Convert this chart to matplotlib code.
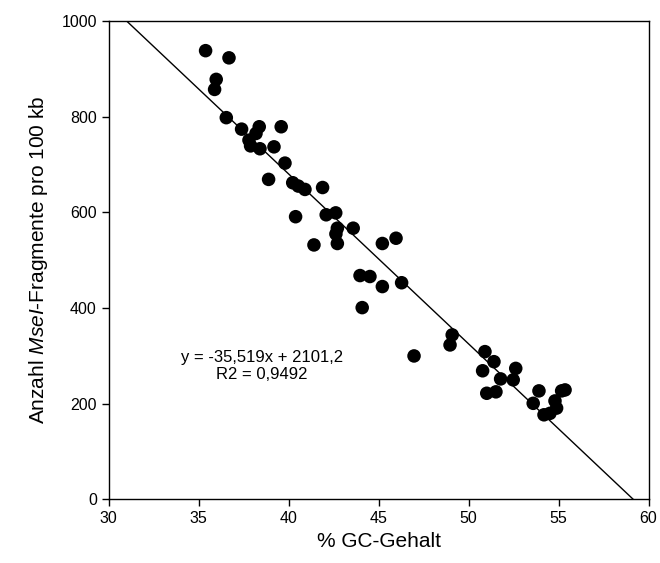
import matplotlib
matplotlib.use("Agg")
import matplotlib.pyplot as plt
import numpy as np

plt.rcParams["font.family"] = ["Liberation Sans", "DejaVu Sans"]
plt.rcParams["mathtext.fontset"] = "custom"
plt.rcParams["mathtext.rm"] = "Liberation Sans"
plt.rcParams["mathtext.it"] = "Liberation Sans:italic"

# GC-Gehalt (%) und MseI-Fragmente pro 100 kb
gc_gehalt = [35.39, 36.69, 35.98, 35.89, 36.54, 37.39, 38.37, 38.19, 37.80, 37.89,
             38.41, 39.59, 39.19, 39.80, 38.89, 40.23, 40.54, 40.91, 41.89, 40.39,
             42.09, 42.62, 42.71, 42.63, 42.71, 43.59, 41.41, 45.21, 45.97, 43.97,
             44.52, 45.21, 46.28, 44.09, 49.09, 48.97, 46.97, 50.91, 51.41, 50.78,
             51.78, 52.62, 52.48, 51.01, 51.52, 53.91, 53.59, 54.19, 54.52, 54.89,
             54.80, 55.17, 55.36]
fragmente = [938, 923, 878, 857, 798, 774, 779, 765, 751, 739,
             733, 779, 737, 703, 669, 662, 655, 648, 652, 591,
             595, 599, 567, 555, 535, 567, 532, 535, 546, 468,
             466, 445, 453, 401, 344, 323, 300, 309, 288, 269,
             252, 274, 250, 222, 225, 227, 201, 177, 180, 191,
             206, 227, 229]

steigung = -35.519
achsenabschnitt = 2101.2
r2 = 0.9492

fig = plt.figure(figsize=(6.6, 5.63), dpi=100)
ax = fig.add_axes([0.1645, 0.1128, 0.8182, 0.8499])

ax.scatter(gc_gehalt, fragmente, s=95, color="black", edgecolors="none", zorder=3)

xs = np.array([30, 60])
ax.plot(xs, steigung * xs + achsenabschnitt, color="black", lw=1.0, zorder=2)

ax.text(38.5, 279,
        "y = -35,519x + 2101,2\nR2 = 0,9492",
        ha="center", va="center", multialignment="center", fontsize=12)

ax.set_xlim(30, 60)
ax.set_ylim(0, 1000)
ax.set_xticks(range(30, 61, 5))
ax.set_yticks(range(0, 1001, 200))
ax.tick_params(direction="out", length=5, width=1, labelsize=11.5)
for s in ax.spines.values():
    s.set_linewidth(1.0)

ax.set_xlabel("% GC-Gehalt", fontsize=15, labelpad=4)
ax.set_ylabel(r"Anzahl $\mathit{MseI}$-Fragmente pro 100 kb", fontsize=15, labelpad=8)

fig.savefig("out.png", dpi=100)
